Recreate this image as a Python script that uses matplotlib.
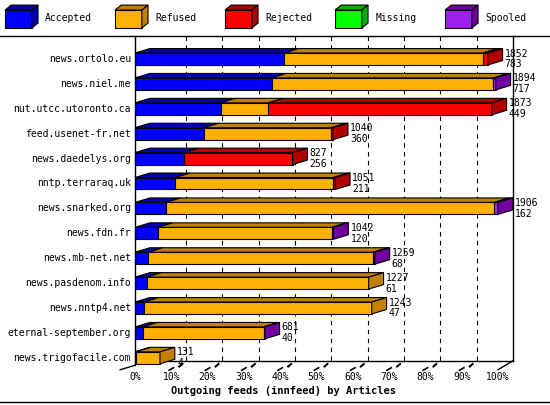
import matplotlib.pyplot as plt
from matplotlib.patches import Polygon

feeds = ['news.ortolo.eu', 'news.niel.me', 'nut.utcc.utoronto.ca', 'feed.usenet-fr.net',
         'news.daedelys.org', 'nntp.terraraq.uk', 'news.snarked.org', 'news.fdn.fr',
         'news.mb-net.net', 'news.pasdenom.info', 'news.nntp4.net',
         'eternal-september.org', 'news.trigofacile.com']
offered = [1852, 1894, 1873, 1040, 827, 1051, 1906, 1042, 1259, 1227, 1243, 681, 131]
accepted = [783, 717, 449, 360, 256, 211, 162, 120, 68, 61, 47, 40, 4]
refused = [1043, 1165, 250, 670, 0, 830, 1724, 914, 1183, 1166, 1196, 636, 127]
rejected = [26, 0, 1174, 10, 571, 10, 0, 0, 0, 0, 0, 0, 0]
missing = [0] * 13
spooled = [0, 12, 0, 0, 0, 0, 20, 8, 8, 0, 0, 5, 0]

names = ['Accepted', 'Refused', 'Rejected', 'Missing', 'Spooled']
front = ['#0000ff', '#ffb000', '#ff0000', '#00ff00', '#a020f0']
dark = ['#0000b0', '#c08000', '#b00000', '#00b000', '#7000a0']

mono = 'DejaVu Sans Mono'
fs = 7
fig = plt.figure(figsize=(5.5, 4.05), dpi=100)
ax = fig.add_axes([0, 0, 1, 1])
ax.set_xlim(-135 / 3.63, (550 - 135) / 3.63)
ax.set_ylim((405 - 59) / 24.9, -59 / 24.9)
ax.axis('off')

dx, dy, h = 4.1, 0.18, 0.48
floor = 12.3
top = (36 - 59) / 24.9
vmax = max(offered)


def box3d(a, b, y, i, end):
    ax.add_patch(Polygon([(a, y - h / 2), (b, y - h / 2), (b + dx, y - h / 2 - dy),
                          (a + dx, y - h / 2 - dy)], fc=dark[i], ec='black', lw=0.8, zorder=3))
    ax.add_patch(Polygon([(a, y - h / 2), (b, y - h / 2), (b, y + h / 2), (a, y + h / 2)],
                         fc=front[i], ec='black', lw=0.8, zorder=4))
    if end:
        ax.add_patch(Polygon([(b, y - h / 2), (b + dx, y - h / 2 - dy), (b + dx, y + h / 2 - dy),
                              (b, y + h / 2)], fc=dark[i], ec='black', lw=0.8, zorder=4))


# frame, walls and grid
ax.plot([-37.2, 114.4], [top, top], color='black', lw=1)
ax.plot([-37.2, 114.4], [(402 - 59) / 24.9] * 2, color='black', lw=1)
ax.plot([0, 0], [top, floor], color='black', lw=1, zorder=5)
ax.plot([100 + dx, 100 + dx], [top, floor - dy], color='black', lw=1)
ax.plot([dx, 100 + dx], [floor - dy, floor - dy], color='black', lw=1)
ax.plot([-dx, 0], [floor + dy, floor], color='black', lw=1)
ax.plot([100, 100 + dx], [floor + dy, floor - dy], color='black', lw=1)
for p in range(10, 100, 10):
    ax.plot([p + dx, p + dx], [top, floor - dy], color='black', lw=0.8, ls=(0, (4, 4)), zorder=1)
    ax.plot([p - 0.6, p + 0.6], [floor + 0.2, floor + 0.1], color='black', lw=1.2)
    ax.plot([p + 2.2, p + 3.0], [floor + 0.05, floor - 0.05], color='black', lw=1.5)
for p in range(0, 101, 10):
    ax.text(p, (377 - 59) / 24.9, '%d%%' % p, ha='center', va='center',
            family=mono, fontsize=fs)
ax.text(10, (391 - 59) / 24.9, 'Outgoing feeds (innfeed) by Articles', ha='left', va='center',
        family=mono, fontsize=7.5, weight='bold')

# bars
for r, name in enumerate(feeds):
    vals = [accepted[r], refused[r], rejected[r], missing[r], spooled[r]]
    segs = [(i, v) for i, v in enumerate(vals) if v > 0]
    pos = 0
    for k, (i, v) in enumerate(segs):
        a, b = pos / vmax * 100, (pos + v) / vmax * 100
        box3d(a, b, r, i, k == len(segs) - 1)
        pos += v
    end = pos / vmax * 100
    ax.text(-1.1, r, name, ha='right', va='center', family=mono, fontsize=fs)
    ax.text(end + dx + 0.6, r - 0.22, str(offered[r]), ha='left', va='center',
            family=mono, fontsize=fs, zorder=6)
    ax.text(end + dx + 0.6, r + 0.22, str(accepted[r]), ha='left', va='center',
            family=mono, fontsize=fs, zorder=6)

# legend
for i, n in enumerate(names):
    x0 = (5 + 110 * i - 135) / 3.63
    y0 = (28 - 59) / 24.9
    w, hh, ddx, ddy = 7.4, 0.72, 1.7, 0.2
    ax.add_patch(Polygon([(x0, y0), (x0 + w, y0), (x0 + w, y0 - hh), (x0, y0 - hh)],
                         fc=front[i], ec='black', lw=0.8))
    ax.add_patch(Polygon([(x0, y0 - hh), (x0 + w, y0 - hh), (x0 + w + ddx, y0 - hh - ddy),
                          (x0 + ddx, y0 - hh - ddy)], fc=dark[i], ec='black', lw=0.8))
    ax.add_patch(Polygon([(x0 + w, y0), (x0 + w + ddx, y0 - ddy), (x0 + w + ddx, y0 - hh - ddy),
                          (x0 + w, y0 - hh)], fc=dark[i], ec='black', lw=0.8))
    ax.text(x0 + w + ddx + 2.0, y0 - hh / 2 - 0.05, n, ha='left', va='center',
            family=mono, fontsize=fs)

fig.savefig('out.png', dpi=100)
